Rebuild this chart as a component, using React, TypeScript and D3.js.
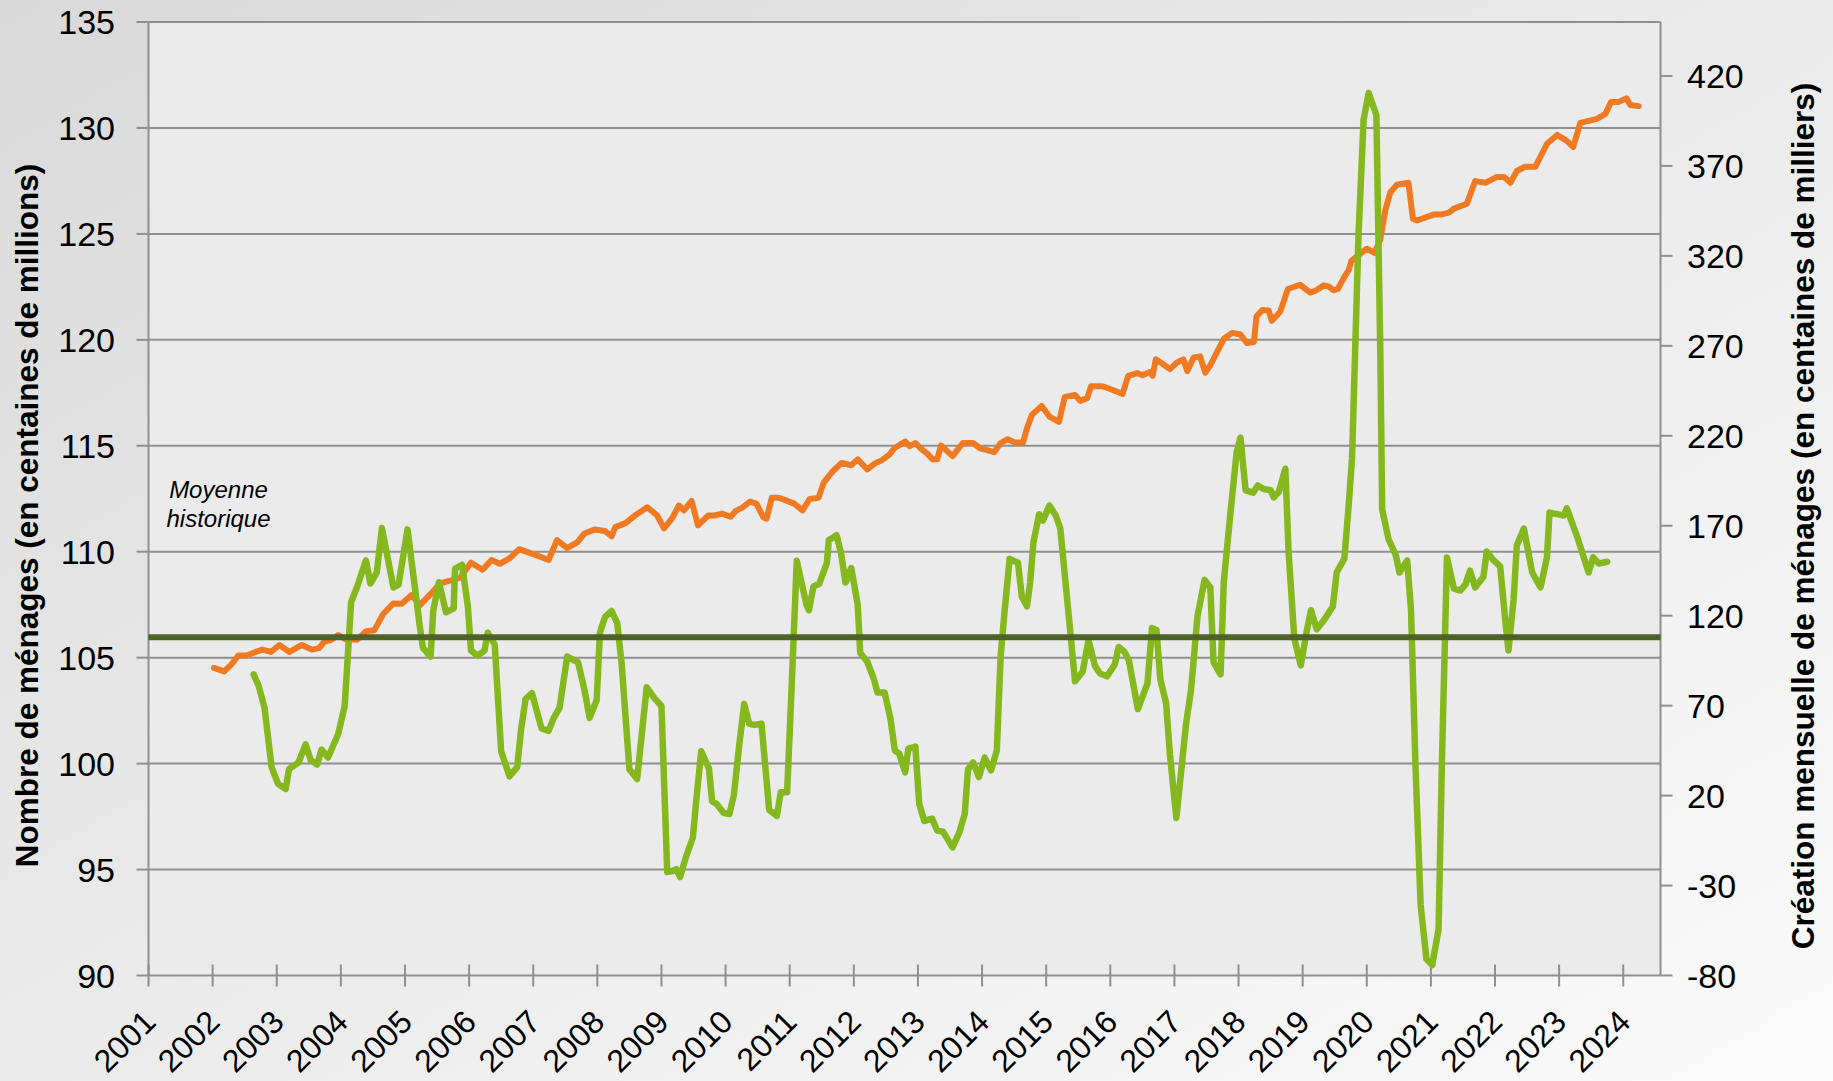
import React, { useEffect } from "react";
import * as d3 from "d3";

// ---------- DATA ----------
const yearTicks = [2001, 2002, 2003, 2004, 2005, 2006, 2007, 2008, 2009, 2010, 2011, 2012,
  2013, 2014, 2015, 2016, 2017, 2018, 2019, 2020, 2021, 2022, 2023, 2024];
const leftTicks = [90, 95, 100, 105, 110, 115, 120, 125, 130, 135];
const rightTicks = [-80, -30, 20, 70, 120, 170, 220, 270, 320, 370, 420];
const historicalMean = 108; // right axis units

// Nombre de ménages (left axis)
const householdYears = [
  2002.02, 2002.18, 2002.29, 2002.40, 2002.53, 2002.67, 2002.78, 2002.91, 2003.04, 2003.20,
  2003.39, 2003.55, 2003.66, 2003.74, 2003.85, 2003.96, 2004.06, 2004.25, 2004.39, 2004.52,
  2004.66, 2004.82, 2004.95, 2005.10, 2005.24, 2005.41, 2005.54, 2005.76, 2005.86, 2006.03,
  2006.21, 2006.35, 2006.48, 2006.64, 2006.78, 2006.99, 2007.24, 2007.37, 2007.53, 2007.69,
  2007.80, 2007.96, 2008.12, 2008.22, 2008.28, 2008.44, 2008.61, 2008.78, 2008.93, 2009.04,
  2009.17, 2009.27, 2009.35, 2009.47, 2009.57, 2009.73, 2009.83, 2009.94, 2010.08, 2010.16,
  2010.26, 2010.38, 2010.48, 2010.59, 2010.64, 2010.72, 2010.83, 2010.91, 2011.07, 2011.20,
  2011.31, 2011.45, 2011.53, 2011.66, 2011.81, 2011.96, 2012.06, 2012.21, 2012.33, 2012.44,
  2012.56, 2012.63, 2012.80, 2012.87, 2012.96, 2013.06, 2013.14, 2013.23, 2013.30, 2013.36,
  2013.54, 2013.70, 2013.86, 2013.97, 2014.08, 2014.19, 2014.29, 2014.40, 2014.51, 2014.64,
  2014.70, 2014.78, 2014.93, 2015.05, 2015.20, 2015.29, 2015.45, 2015.53, 2015.64, 2015.70,
  2015.88, 2016.04, 2016.19, 2016.28, 2016.42, 2016.50, 2016.62, 2016.66, 2016.71, 2016.93,
  2017.04, 2017.14, 2017.20, 2017.30, 2017.40, 2017.48, 2017.56, 2017.77, 2017.90, 2018.03,
  2018.13, 2018.24, 2018.28, 2018.37, 2018.47, 2018.52, 2018.65, 2018.77, 2018.96, 2019.12,
  2019.20, 2019.33, 2019.41, 2019.48, 2019.55, 2019.65, 2019.72, 2019.76, 2019.90, 2020.00,
  2020.12, 2020.21, 2020.29, 2020.37, 2020.47, 2020.65, 2020.72, 2020.78, 2021.04, 2021.15,
  2021.28, 2021.36, 2021.56, 2021.69, 2021.85, 2022.03, 2022.14, 2022.24, 2022.34, 2022.47,
  2022.63, 2022.81, 2022.97, 2023.12, 2023.22, 2023.33, 2023.59, 2023.72, 2023.81, 2023.93,
  2024.05, 2024.11, 2024.24];
const householdValues = [
  104.52, 104.35, 104.67, 105.1, 105.1, 105.27, 105.38, 105.27, 105.6, 105.27,
  105.6, 105.38, 105.45, 105.75, 105.84, 106.07, 105.88, 105.84, 106.24, 106.29,
  107.06, 107.56, 107.54, 107.95, 107.5, 108.03, 108.49, 108.68, 108.78, 109.48,
  109.15, 109.61, 109.43, 109.71, 110.12, 109.9, 109.61, 110.55, 110.17, 110.45,
  110.86, 111.05, 110.98, 110.73, 111.16, 111.35, 111.76, 112.1, 111.72, 111.1,
  111.6, 112.18, 111.95, 112.4, 111.24, 111.71, 111.71, 111.8, 111.65, 111.93,
  112.08, 112.36, 112.27, 111.62, 111.56, 112.55, 112.55, 112.46, 112.27, 111.95,
  112.49, 112.55, 113.26, 113.76, 114.19, 114.08, 114.36, 113.89, 114.17, 114.32,
  114.6, 114.88, 115.2, 114.98, 115.13, 114.83, 114.64, 114.36, 114.36, 115.01,
  114.51, 115.13, 115.13, 114.88, 114.79, 114.7, 115.13, 115.31, 115.16, 115.16,
  115.82, 116.47, 116.88, 116.38, 116.13, 117.31, 117.4, 117.12, 117.25, 117.81,
  117.81, 117.63, 117.44, 118.3, 118.43, 118.33, 118.48, 118.3, 119.08, 118.62,
  118.93, 119.08, 118.52, 119.17, 119.22, 118.45, 118.8, 120.05, 120.33, 120.25,
  119.85, 119.9, 121.1, 121.41, 121.38, 120.9, 121.33, 122.4, 122.6, 122.23,
  122.32, 122.57, 122.51, 122.34, 122.4, 122.97, 123.3, 123.73, 124.07, 124.3,
  124.1, 124.72, 126.13, 126.98, 127.32, 127.41, 125.71, 125.63, 125.91, 125.91,
  126.0, 126.19, 126.42, 127.49, 127.41, 127.69, 127.69, 127.41, 127.97, 128.17,
  128.17, 129.25, 129.67, 129.39, 129.1, 130.24, 130.43, 130.66, 131.23, 131.23,
  131.4, 131.08, 131.03];

// Création mensuelle de ménages (right axis)
const creationYears = [
  2002.64, 2002.72, 2002.81, 2002.92, 2003.02, 2003.14, 2003.19, 2003.34, 2003.45, 2003.53,
  2003.63, 2003.70, 2003.80, 2003.96, 2004.06, 2004.16, 2004.25, 2004.39, 2004.46, 2004.56,
  2004.64, 2004.82, 2004.90, 2005.04, 2005.23, 2005.28, 2005.40, 2005.44, 2005.53, 2005.64,
  2005.76, 2005.78, 2005.89, 2005.98, 2006.03, 2006.13, 2006.24, 2006.29, 2006.40, 2006.50,
  2006.63, 2006.75, 2006.81, 2006.88, 2006.98, 2007.13, 2007.24, 2007.32, 2007.41, 2007.53,
  2007.70, 2007.80, 2007.88, 2007.99, 2008.04, 2008.12, 2008.22, 2008.31, 2008.38, 2008.50,
  2008.62, 2008.77, 2008.89, 2009.00, 2009.09, 2009.16, 2009.23, 2009.29, 2009.38, 2009.49,
  2009.54, 2009.62, 2009.74, 2009.79, 2009.86, 2009.97, 2010.06, 2010.13, 2010.21, 2010.29,
  2010.37, 2010.45, 2010.56, 2010.68, 2010.80, 2010.86, 2010.96, 2011.03, 2011.11, 2011.26,
  2011.30, 2011.37, 2011.46, 2011.58, 2011.61, 2011.73, 2011.80, 2011.87, 2011.96, 2012.06,
  2012.10, 2012.21, 2012.31, 2012.37, 2012.48, 2012.57, 2012.64, 2012.71, 2012.80, 2012.85,
  2012.96, 2013.02, 2013.10, 2013.22, 2013.30, 2013.39, 2013.54, 2013.65, 2013.73, 2013.78,
  2013.86, 2013.95, 2014.04, 2014.14, 2014.23, 2014.29, 2014.35, 2014.43, 2014.56, 2014.62,
  2014.70, 2014.75, 2014.80, 2014.89, 2014.95, 2015.05, 2015.15, 2015.22, 2015.32, 2015.45,
  2015.57, 2015.66, 2015.76, 2015.84, 2015.95, 2016.07, 2016.13, 2016.22, 2016.29, 2016.43,
  2016.58, 2016.65, 2016.72, 2016.78, 2016.87, 2016.93, 2017.03, 2017.18, 2017.26, 2017.36,
  2017.47, 2017.56, 2017.61, 2017.72, 2017.77, 2017.87, 2017.97, 2018.03, 2018.11, 2018.23,
  2018.30, 2018.39, 2018.50, 2018.55, 2018.63, 2018.73, 2018.78, 2018.87, 2018.97, 2019.06,
  2019.13, 2019.22, 2019.33, 2019.47, 2019.53, 2019.65, 2019.72, 2019.77, 2019.82, 2019.87,
  2019.95, 2020.03, 2020.15, 2020.21, 2020.24, 2020.34, 2020.45, 2020.51, 2020.63, 2020.69,
  2020.76, 2020.84, 2020.93, 2021.02, 2021.12, 2021.17, 2021.25, 2021.36, 2021.46, 2021.54,
  2021.61, 2021.69, 2021.82, 2021.87, 2021.98, 2022.08, 2022.16, 2022.21, 2022.29, 2022.34,
  2022.45, 2022.58, 2022.71, 2022.81, 2022.85, 2022.99, 2023.07, 2023.12, 2023.28, 2023.37,
  2023.46, 2023.53, 2023.62, 2023.75];
const creationValues = [
  87.4, 80.8, 68.7, 35.8, 26.5, 23.7, 34.7, 38.4, 48.5, 39.7,
  37.3, 45.6, 41.2, 54.4, 69.8, 127.6, 135.7, 150.7, 137.9, 143.9,
  168.7, 135.7, 137.3, 168.0, 114.4, 102.1, 97.3, 122.6, 138.6, 121.9,
  124.1, 146.1, 148.3, 125.4, 100.6, 97.7, 100.6, 110.5, 103.9, 44.6,
  30.7, 35.8, 56.6, 73.6, 76.9, 57.3, 56.0, 63.2, 68.7, 97.3,
  94.0, 78.6, 63.2, 73.1, 110.5, 119.3, 122.6, 116.0, 92.9, 34.7,
  29.2, 80.2, 74.2, 69.8, -22.5, -22.0, -20.9, -25.3, -14.3, -3.3,
  16.4, 44.6, 35.1, 16.9, 15.3, 10.3, 9.8, 20.4, 47.2, 70.9,
  59.9, 59.3, 59.9, 12.0, 8.7, 21.9, 21.9, 80.2, 150.5, 126.3,
  123.0, 136.2, 137.7, 149.4, 161.9, 164.8, 154.9, 138.4, 146.5, 126.3,
  99.3, 94.4, 85.0, 77.3, 77.3, 63.0, 45.0, 43.3, 32.9, 46.1,
  47.2, 15.3, 5.9, 7.2, 0.6, 0.0, -8.8, 0.0, 9.8, 34.5,
  38.4, 30.3, 41.1, 34.0, 45.0, 97.7, 121.9, 151.6, 149.4, 130.7,
  125.2, 138.4, 160.4, 176.4, 172.9, 181.2, 175.7, 168.5, 131.8, 83.5,
  89.0, 106.5, 92.2, 87.9, 86.3, 92.9, 102.6, 99.9, 95.1, 68.1,
  82.4, 113.1, 112.0, 84.6, 71.4, 42.8, 7.6, 59.3, 79.1, 119.7,
  139.9, 135.7, 94.1, 87.4, 139.0, 175.7, 210.7, 219.0, 189.7, 188.4,
  192.4, 190.4, 189.7, 185.7, 189.0, 201.7, 155.7, 107.4, 92.4, 110.7,
  123.1, 112.4, 117.4, 125.1, 144.0, 151.7, 182.4, 207.3, 269.0, 330.6,
  395.6, 410.6, 398.2, 269.0, 179.0, 162.4, 154.0, 144.0, 150.7, 123.1,
  35.8, -40.8, -70.8, -74.2, -54.2, 35.8, 152.4, 135.0, 134.0, 137.4,
  145.0, 135.7, 141.7, 155.7, 150.7, 147.4, 117.4, 100.7, 129.0, 159.0,
  168.4, 144.0, 135.7, 152.4, 177.3, 176.3, 175.7, 179.7, 164.0, 154.0,
  144.0, 152.4, 149.0, 150.0];

const leftTitle = "Nombre de ménages (en centaines de millions)";
const rightTitle = "Création mensuelle de ménages (en centaines de milliers)";

// ---------- LAYOUT ----------
const W = 1833;
const H = 1081;
const PL = 148.5, PR = 1660.5, PT = 22, PB = 975.5;
const FONT = "'Liberation Sans', Arial, sans-serif";
const GRID = "#8f8f8f";

export default function App() {
  useEffect(() => {
    document.body.style.margin = "0";
    document.body.style.overflow = "hidden";
  }, []);

  const x = d3.scaleLinear().domain([2001, 2001 + (PR - PL) / 64.12]).range([PL, PR]);
  const yL = d3.scaleLinear().domain([90, 135]).range([PB, PT]);
  const yR = d3.scaleLinear().domain([-80, 450]).range([PB, PT]);

  const household = householdYears.map((t, i) => [t, householdValues[i]] as [number, number]);
  const creation = creationYears.map((t, i) => [t, creationValues[i]] as [number, number]);

  const lineL = d3.line<[number, number]>().x((d) => x(d[0])).y((d) => yL(d[1]));
  const lineR = d3.line<[number, number]>().x((d) => x(d[0])).y((d) => yR(d[1]));

  return (
    <svg width={W} height={H} style={{ position: "absolute", left: 0, top: 0, display: "block" }}>
      <defs>
        <linearGradient id="bg" x1="0" y1="0" x2="1" y2="1">
          <stop offset="0" stopColor="#d9d9d9" />
          <stop offset="0.45" stopColor="#e9e9e9" />
          <stop offset="1" stopColor="#fbfbfb" />
        </linearGradient>
      </defs>
      <rect x={0} y={0} width={W} height={H} fill="url(#bg)" />
      <rect x={PL} y={PT} width={PR - PL} height={PB - PT} fill="#ebebeb" />

      {/* gridlines */}
      {leftTicks.map((v) => (
        <line key={"g" + v} x1={PL} x2={PR} y1={yL(v)} y2={yL(v)} stroke={GRID} strokeWidth={2} />
      ))}
      {/* axes */}
      <line x1={PL} x2={PL} y1={PT} y2={PB} stroke={GRID} strokeWidth={2} />
      <line x1={PR} x2={PR} y1={PT} y2={PB} stroke={GRID} strokeWidth={2} />
      {leftTicks.map((v) => (
        <line key={"lt" + v} x1={PL - 12} x2={PL} y1={yL(v)} y2={yL(v)} stroke={GRID} strokeWidth={2} />
      ))}
      {rightTicks.map((v) => (
        <line key={"rt" + v} x1={PR} x2={PR + 12} y1={yR(v)} y2={yR(v)} stroke={GRID} strokeWidth={2} />
      ))}
      {yearTicks.map((t) => (
        <line key={"xt" + t} x1={x(t)} x2={x(t)} y1={PB - 11} y2={PB + 11} stroke={GRID} strokeWidth={2} />
      ))}

      {/* tick labels */}
      {leftTicks.map((v) => (
        <text key={"ll" + v} x={115} y={yL(v)} textAnchor="end" dominantBaseline="central"
          fontFamily={FONT} fontSize={34} fill="#000">{v}</text>
      ))}
      {rightTicks.map((v) => (
        <text key={"rl" + v} x={1687} y={yR(v)} textAnchor="start" dominantBaseline="central"
          fontFamily={FONT} fontSize={34} fill="#000">{v}</text>
      ))}
      {yearTicks.map((t) => (
        <text key={"xl" + t} transform={`translate(${x(t) + 9},${1024}) rotate(-45)`}
          textAnchor="end" fontFamily={FONT} fontSize={32} fill="#000">{t}</text>
      ))}

      {/* axis titles */}
      <text transform={`translate(37.5,${515.5}) rotate(-90)`} textAnchor="middle"
        fontFamily={FONT} fontWeight="bold" fontSize={31.5} fill="#000">{leftTitle}</text>
      <text transform={`translate(1813.5,${516}) rotate(-90)`} textAnchor="middle"
        fontFamily={FONT} fontWeight="bold" fontSize={31.5} fill="#000">{rightTitle}</text>

      {/* series */}
      <path d={lineL(household) || ""} fill="none" stroke="#f07a22" strokeWidth={6}
        strokeLinejoin="round" strokeLinecap="round" />
      <path d={lineR(creation) || ""} fill="none" stroke="#85b81f" strokeWidth={6.5}
        strokeLinejoin="round" strokeLinecap="round" />
      <line x1={PL} x2={PR} y1={yR(historicalMean)} y2={yR(historicalMean)}
        stroke="#4f6228" strokeWidth={6} />

      {/* annotation */}
      <text x={218.5} y={497.5} textAnchor="middle" fontFamily={FONT} fontStyle="italic"
        fontSize={24} fill="#000">Moyenne</text>
      <text x={218.5} y={527} textAnchor="middle" fontFamily={FONT} fontStyle="italic"
        fontSize={24} fill="#000">historique</text>
    </svg>
  );
}
